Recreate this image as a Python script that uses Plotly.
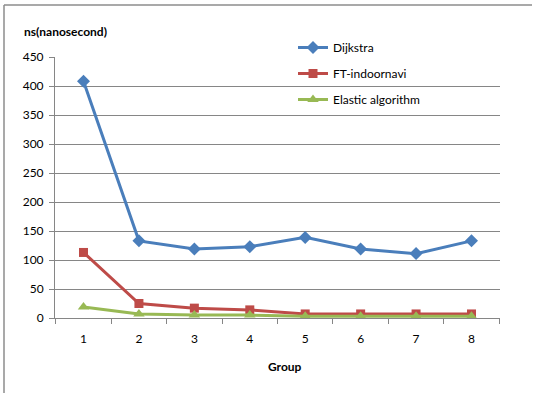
import plotly.graph_objects as go

groups = ["1", "2", "3", "4", "5", "6", "7", "8"]
dijkstra = [408, 133, 119, 123, 139, 119, 111, 133]
ft_indoornavi = [113, 25, 17, 14, 7, 7, 7, 7]
elastic = [19, 7, 5, 5, 3, 3, 3, 3]
y_ticks = [0, 50, 100, 150, 200, 250, 300, 350, 400, 450]

W, H = 533, 393
ml, mr, mt, mb = 55, 33, 57, 75
pw, ph = W - ml - mr, H - mt - mb

fig = go.Figure()
fig.add_trace(go.Scatter(x=groups, y=dijkstra, name="Dijkstra", mode="lines+markers",
                         legendgroup="a",
                         line=dict(color="#4A7EBB", width=3),
                         marker=dict(symbol="diamond", size=10, color="#4A7EBB")))
fig.add_trace(go.Scatter(x=groups, y=ft_indoornavi, name="FT-indoornavi", mode="lines+markers",
                         legendgroup="b",
                         line=dict(color="#BE4B48", width=3),
                         marker=dict(symbol="square", size=9, color="#BE4B48")))
fig.add_trace(go.Scatter(x=groups, y=elastic, name="Elastic algorithm", mode="lines+markers",
                         legendgroup="c",
                         line=dict(color="#98B954", width=3),
                         marker=dict(symbol="triangle-up", size=10, color="#98B954")))

def px_x(p):
    return (p - ml) / pw

def px_y(p):
    return (H - mb - p) / ph

fig.update_layout(
    width=W, height=H,
    margin=dict(l=ml, r=mr, t=mt, b=mb),
    paper_bgcolor="white", plot_bgcolor="white",
    font=dict(family="Lato, Open Sans, sans-serif", size=12, color="#000000"),
    showlegend=True,
    legend=dict(x=px_x(293), y=px_y(33), xanchor="left", yanchor="top",
                bgcolor="rgba(0,0,0,0)", font=dict(size=12),
                tracegroupgap=7, itemwidth=30),
    xaxis=dict(type="category", tickson="boundaries", ticks="outside", ticklen=5,
               tickcolor="#868686", showline=True, linecolor="#868686", linewidth=1,
               showgrid=False, zeroline=False, tickfont=dict(size=12),
               ticklabelstandoff=10),
    yaxis=dict(range=[0, 450], tickvals=y_ticks, ticks="outside", ticklen=5,
               tickcolor="#868686", showline=True, linecolor="#868686", linewidth=1,
               showgrid=True, gridcolor="#868686", gridwidth=1, zeroline=False,
               tickfont=dict(size=12), ticklabelstandoff=3),
    annotations=[
        dict(text="<b>ns(nanosecond)</b>", xref="paper", yref="paper",
             x=px_x(22), y=px_y(31), xanchor="left", yanchor="middle",
             showarrow=False, font=dict(size=12)),
        dict(text="<b>Group</b>", xref="paper", yref="paper",
             x=px_x(285), y=px_y(366), xanchor="center", yanchor="middle",
             showarrow=False, font=dict(size=12)),
    ],
    shapes=[
        dict(type="line", xref="paper", yref="paper", x0=px_x(4), x1=px_x(532),
             y0=px_y(5), y1=px_y(5), line=dict(color="#8c8c8c", width=1.5)),
        dict(type="line", xref="paper", yref="paper", x0=px_x(4), x1=px_x(4),
             y0=px_y(5), y1=px_y(393), line=dict(color="#8c8c8c", width=1.5)),
    ],
)

fig.write_html("out.html", config={"displayModeBar": False},
               post_script="document.documentElement.style.overflow='hidden';document.body.style.margin='0';document.body.style.overflow='hidden';")
